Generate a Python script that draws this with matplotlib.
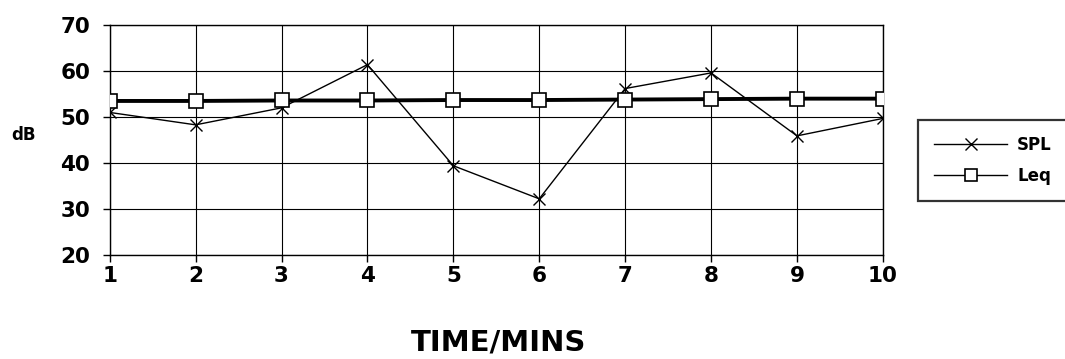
import matplotlib
matplotlib.use("Agg")
import matplotlib.pyplot as plt

## Data

minutes = [1, 2, 3, 4, 5, 6, 7, 8, 9, 10]
spl = [51.0, 48.3, 52.0, 61.4, 39.4, 32.2, 56.2, 59.6, 45.9, 49.7]
leq = [53.5, 53.5, 53.6, 53.6, 53.7, 53.7, 53.8, 53.9, 54.0, 54.0]
y_ticks = [20, 30, 40, 50, 60, 70]

## Figure

plt.rcParams["font.family"] = ["DejaVu Sans"]
fig = plt.figure(figsize=(10.65, 3.59), dpi=100)
ax = fig.add_axes([0.103, 0.290, 0.726, 0.640])

# Lines
ax.plot(minutes, spl, color="black", linewidth=1.0, marker="x",
        markersize=9, markeredgewidth=1.0, label="SPL", zorder=3)
ax.plot(minutes, leq, color="black", linewidth=2.8, marker="s",
        markersize=10.5, markerfacecolor="white", markeredgecolor="black",
        markeredgewidth=1.2, label="Leq", zorder=4)

# Axes
ax.set_xlim(1, 10)
ax.set_ylim(20, 70)
ax.set_xticks(minutes)
ax.set_yticks(y_ticks)
ax.tick_params(axis="both", direction="out", length=5, width=1,
               labelsize=15.5)
ax.tick_params(axis="y", pad=9)
ax.tick_params(axis="x", pad=3)
for lab in ax.get_xticklabels() + ax.get_yticklabels():
    lab.set_fontweight("bold")
ax.grid(True, color="black", linewidth=0.8)
for s in ax.spines.values():
    s.set_linewidth(1.0)

# Labels
fig.text(0.011, 0.623, "dB", fontsize=12, fontweight="bold", va="center")
fig.text(0.468, 0.045, "TIME/MINS", fontsize=21, fontweight="bold",
         ha="center", va="center")

# Legend
leg = ax.legend(loc="upper left", bbox_to_anchor=(0.862, 0.666),
                bbox_transform=fig.transFigure, borderaxespad=0,
                frameon=True, fancybox=False, edgecolor="black",
                prop={"weight": "bold", "size": 12}, handlelength=4.4,
                handletextpad=0.6, borderpad=0.95, labelspacing=0.8)
leg.get_frame().set_linewidth(1.6)
for line in leg.get_lines():
    line.set_linewidth(1.0)
    line.set_markersize(8)

fig.savefig("out.png", dpi=100)
